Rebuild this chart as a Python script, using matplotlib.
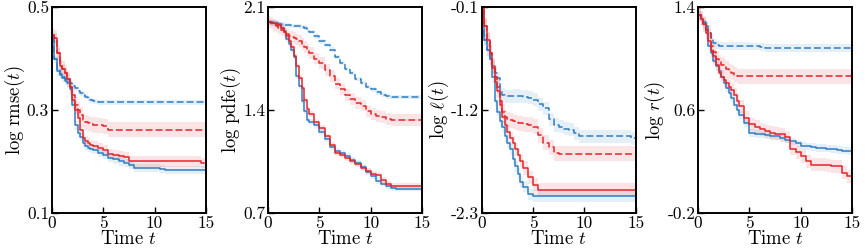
import numpy as np
import matplotlib
matplotlib.use("Agg")
import matplotlib.pyplot as plt

plt.rcParams["font.family"] = "serif"
plt.rcParams["font.serif"] = ["cmr10", "DejaVu Serif"]
plt.rcParams["mathtext.fontset"] = "cm"
plt.rcParams["axes.unicode_minus"] = False

BLUE = "#2f7dc4"
RED = "#e3262b"

# shared time knots (step curves)
t = [0, 0.25, 0.5, 0.75, 1, 1.25, 1.5, 1.75, 2, 2.25, 2.5, 2.75, 3, 3.25, 3.5, 3.75, 4,
     4.5, 5, 5.5, 6, 6.5, 7, 7.5, 8, 8.5, 9, 9.5, 10, 10.5, 11, 11.5, 12, 12.5, 13, 13.5, 14, 14.5, 15]

# panel 1: log rmse
rmse_blue = [0.44, 0.40, 0.375, 0.368, 0.362, 0.357, 0.352, 0.34, 0.31, 0.27, 0.255, 0.248, 0.235, 0.23, 0.227, 0.224, 0.222,
             0.217, 0.212, 0.207, 0.204, 0.2, 0.197, 0.194, 0.188, 0.188, 0.188, 0.188, 0.187, 0.186, 0.184, 0.184,
             0.184, 0.184, 0.184, 0.184, 0.184, 0.184, 0.184]
rmse_blue_dash = [0.44, 0.40, 0.378, 0.37, 0.365, 0.36, 0.356, 0.352, 0.347, 0.342, 0.337, 0.333, 0.33, 0.326, 0.322, 0.319, 0.317,
                  0.315, 0.315, 0.315, 0.315, 0.315, 0.315, 0.315, 0.315, 0.315, 0.315, 0.315, 0.315, 0.315, 0.315, 0.315,
                  0.315, 0.315, 0.315, 0.315, 0.315, 0.315, 0.315]
rmse_red = [0.445, 0.44, 0.41, 0.385, 0.38, 0.372, 0.36, 0.345, 0.32, 0.30, 0.285, 0.262, 0.245, 0.24, 0.235, 0.232, 0.23,
            0.226, 0.222, 0.215, 0.212, 0.21, 0.208, 0.2, 0.2, 0.2, 0.2, 0.2, 0.2, 0.2, 0.2, 0.2,
            0.2, 0.2, 0.2, 0.2, 0.2, 0.197, 0.197]
rmse_red_dash = [0.445, 0.44, 0.41, 0.385, 0.38, 0.372, 0.36, 0.345, 0.33, 0.31, 0.30, 0.29, 0.28, 0.276, 0.274, 0.272, 0.271,
                 0.27, 0.268, 0.262, 0.262, 0.262, 0.262, 0.262, 0.262, 0.262, 0.262, 0.262, 0.262, 0.262, 0.262, 0.262,
                 0.262, 0.262, 0.262, 0.262, 0.262, 0.262, 0.262]

# panel 2: log pdfe
pdfe_blue = [1.996, 1.993, 1.99, 1.985, 1.975, 1.96, 1.94, 1.88, 1.85, 1.81, 1.76, 1.63, 1.56, 1.46, 1.39, 1.334, 1.32,
             1.30, 1.25, 1.2, 1.15, 1.12, 1.11, 1.085, 1.062, 1.04, 1.015, 0.98, 0.95, 0.92, 0.9, 0.885,
             0.87, 0.866, 0.866, 0.866, 0.866, 0.866, 0.866]
pdfe_blue_dash = [1.996, 1.995, 1.993, 1.99, 1.987, 1.984, 1.98, 1.977, 1.975, 1.973, 1.97, 1.97, 1.968, 1.965, 1.96, 1.945, 1.93,
                  1.9, 1.866, 1.84, 1.81, 1.76, 1.72, 1.68, 1.65, 1.61, 1.585, 1.555, 1.54, 1.52, 1.505, 1.492,
                  1.488, 1.488, 1.488, 1.488, 1.488, 1.488, 1.488]
pdfe_red = [1.996, 1.993, 1.99, 1.985, 1.975, 1.955, 1.93, 1.9, 1.87, 1.83, 1.77, 1.70, 1.62, 1.55, 1.47, 1.41, 1.37,
            1.32, 1.28, 1.22, 1.16, 1.11, 1.095, 1.075, 1.055, 1.035, 1.005, 0.985, 0.965, 0.96, 0.925, 0.895,
            0.886, 0.886, 0.886, 0.886, 0.886, 0.886, 0.886]
pdfe_red_dash = [1.996, 1.99, 1.98, 1.97, 1.96, 1.945, 1.93, 1.915, 1.90, 1.895, 1.89, 1.88, 1.87, 1.85, 1.83, 1.81, 1.79,
                 1.75, 1.72, 1.674, 1.63, 1.58, 1.54, 1.50, 1.475, 1.45, 1.43, 1.39, 1.375, 1.36, 1.35, 1.34,
                 1.334, 1.334, 1.334, 1.334, 1.334, 1.334, 1.334]

# panel 3: log ell
ell_blue = [-0.15, -0.45, -0.56, -0.66, -0.85, -1.1, -1.22, -1.32, -1.38, -1.48, -1.55, -1.62, -1.72, -1.8, -1.88, -1.97, -2.02,
            -2.1, -2.12, -2.12, -2.12, -2.12, -2.12, -2.12, -2.12, -2.12, -2.12, -2.12, -2.12, -2.12, -2.12, -2.12,
            -2.12, -2.12, -2.12, -2.12, -2.12, -2.12, -2.12]
ell_blue_dash = [-0.15, -0.45, -0.56, -0.66, -0.73, -0.80, -0.86, -1.0, -1.04, -1.055, -1.055, -1.055, -1.05, -1.05, -1.05, -1.055, -1.06,
                 -1.07, -1.09, -1.14, -1.18, -1.3, -1.36, -1.38, -1.4, -1.41, -1.45, -1.48, -1.48, -1.48, -1.48, -1.48,
                 -1.48, -1.48, -1.48, -1.48, -1.48, -1.5, -1.5]
ell_red = [-0.12, -0.3, -0.45, -0.59, -0.75, -0.9, -1.0, -1.15, -1.27, -1.36, -1.43, -1.5, -1.55, -1.62, -1.68, -1.74, -1.82,
           -1.92, -2.0, -2.05, -2.05, -2.05, -2.05, -2.05, -2.05, -2.05, -2.05, -2.05, -2.05, -2.05, -2.05, -2.05,
           -2.05, -2.05, -2.05, -2.05, -2.05, -2.05, -2.05]
ell_red_dash = [-0.12, -0.3, -0.45, -0.59, -0.72, -0.85, -0.95, -1.1, -1.22, -1.28, -1.30, -1.31, -1.32, -1.33, -1.34, -1.34, -1.35,
                -1.36, -1.38, -1.47, -1.55, -1.6, -1.66, -1.67, -1.67, -1.67, -1.67, -1.67, -1.67, -1.67, -1.67, -1.67,
                -1.67, -1.67, -1.67, -1.67, -1.67, -1.67, -1.67]

# panel 4: log r
r_blue = [1.34, 1.31, 1.27, 1.22, 1.1, 1.04, 0.98, 0.94, 0.9, 0.86, 0.81, 0.77, 0.734, 0.69, 0.64, 0.6, 0.56,
          0.5, 0.42, 0.415, 0.41, 0.408, 0.4, 0.395, 0.385, 0.37, 0.356, 0.34, 0.32, 0.317, 0.31, 0.305,
          0.305, 0.3, 0.295, 0.29, 0.285, 0.28, 0.27]
r_blue_dash = [1.34, 1.31, 1.28, 1.25, 1.2, 1.16, 1.12, 1.107, 1.1, 1.1, 1.1, 1.1, 1.1, 1.1, 1.1, 1.098, 1.096,
               1.095, 1.094, 1.094, 1.09, 1.083, 1.083, 1.083, 1.083, 1.083, 1.083, 1.083, 1.083, 1.083, 1.083, 1.083,
               1.083, 1.083, 1.083, 1.083, 1.083, 1.083, 1.083]
r_red = [1.34, 1.31, 1.27, 1.2, 1.14, 1.06, 1.016, 0.95, 0.89, 0.86, 0.83, 0.81, 0.78, 0.757, 0.72, 0.67, 0.628,
         0.54, 0.49, 0.47, 0.45, 0.434, 0.425, 0.415, 0.41, 0.39, 0.3, 0.27, 0.24, 0.2, 0.175, 0.175,
         0.175, 0.17, 0.163, 0.163, 0.113, 0.085, 0.072]
r_red_dash = [1.34, 1.31, 1.27, 1.22, 1.2, 1.1, 1.05, 1.0, 0.97, 0.95, 0.94, 0.92, 0.90, 0.89, 0.875, 0.862, 0.862,
              0.862, 0.862, 0.862, 0.862, 0.862, 0.862, 0.862, 0.862, 0.862, 0.862, 0.862, 0.862, 0.862, 0.862, 0.862,
              0.862, 0.862, 0.862, 0.862, 0.862, 0.862, 0.862]

ylabels = [r"$\log\,\mathrm{rmse}(t)$", r"$\log\,\mathrm{pdfe}(t)$",
           r"$\log\,\ell(t)$", r"$\log\,r(t)$"]
yticks = [[0.1, 0.3, 0.5], [0.7, 1.4, 2.1], [-2.3, -1.2, -0.1], [-0.2, 0.6, 1.4]]
yticklabels = [["0.1", "0.3", "0.5"], ["0.7", "1.4", "2.1"],
               ["-2.3", "-1.2", "-0.1"], ["-0.2", "0.6", "1.4"]]
# order: blue solid, blue dashed, red solid, red dashed
curves = [[rmse_blue, rmse_blue_dash, rmse_red, rmse_red_dash],
          [pdfe_blue, pdfe_blue_dash, pdfe_red, pdfe_red_dash],
          [ell_blue, ell_blue_dash, ell_red, ell_red_dash],
          [r_blue, r_blue_dash, r_red, r_red_dash]]
# half-width of shaded bands
bands = [[0.008, 0.005, 0.01, 0.015],
         [0.02, 0.015, 0.02, 0.04],
         [0.06, 0.07, 0.07, 0.08],
         [0.03, 0.03, 0.05, 0.06]]
styles = [(BLUE, "-"), (BLUE, (0, (4.5, 2))), (RED, "-"), (RED, (0, (4.5, 2)))]

fig = plt.figure(figsize=(8.65, 2.52), dpi=100)
lefts = [0.060, 0.310, 0.557, 0.807]
tt = np.array(t)
for i in range(4):
    ax = fig.add_axes([lefts[i], 0.155, 0.178, 0.817])
    for (col, ls), y, hw in zip(styles, curves[i], bands[i]):
        y = np.array(y)
        ax.fill_between(tt, y - hw, y + hw, step="post", color=col, alpha=0.12, lw=0)
        ax.step(tt, y, where="post", color=col, ls=ls, lw=1.1)
    ax.set_xlim(0, 15)
    ax.set_ylim(yticks[i][0], yticks[i][-1])
    ax.set_xticks([0, 5, 10, 15])
    ax.set_xticklabels(["0", "5", "10", "15"])
    ax.set_yticks(yticks[i])
    ax.set_yticklabels(yticklabels[i])
    ax.tick_params(direction="in", length=4, width=1, pad=2, labelsize=12.5)
    for s in ax.spines.values():
        s.set_linewidth(1.4)
    ax.set_xlabel(r"Time $t$", fontsize=13.5, labelpad=-1)
    ax.set_ylabel(ylabels[i], fontsize=13.5, labelpad=0)

plt.savefig("out.png", dpi=100)
